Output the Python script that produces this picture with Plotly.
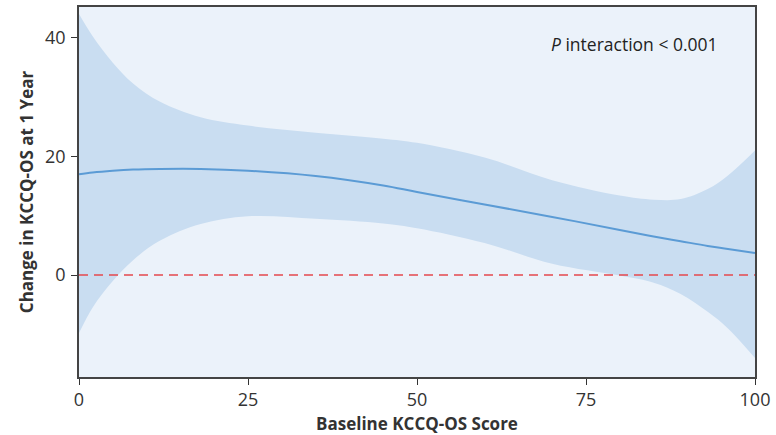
import plotly.graph_objects as go

x_vals = [0, 2, 5, 8, 12, 18, 25, 35, 45, 50, 60, 70, 80, 85, 89, 93, 96, 100]
est = [17.0, 17.3, 17.6, 17.8, 17.9, 17.9, 17.6, 16.7, 15.1, 14.0, 11.9, 9.8, 7.6, 6.5, 5.7, 4.9, 4.4, 3.7]
upper = [44.0, 40.3, 35.8, 32.3, 29.2, 26.6, 25.2, 24.0, 23.0, 22.3, 19.8, 16.0, 13.4, 12.7, 12.8, 14.5, 16.8, 21.0]
lower = [-9.8, -5.5, -1.0, 2.5, 5.8, 8.6, 9.9, 9.5, 8.7, 7.9, 5.4, 1.9, -0.1, -1.3, -3.2, -6.2, -9.0, -14.0]

x_ticks = [0, 25, 50, 75, 100]
y_ticks = [0, 20, 40]

font_fam = "Open Sans, Noto Sans, sans-serif"

fig = go.Figure()
fig.add_trace(go.Scatter(x=x_vals, y=upper, mode="lines", line=dict(width=0, shape="spline"),
                         hoverinfo="skip", showlegend=False))
fig.add_trace(go.Scatter(x=x_vals, y=lower, mode="lines", line=dict(width=0, shape="spline"),
                         fill="tonexty", fillcolor="#C9DDF1", hoverinfo="skip", showlegend=False))
fig.add_trace(go.Scatter(x=[0, 100], y=[0, 0], mode="lines",
                         line=dict(color="#E5484D", width=1.6, dash="9px,6px"), showlegend=False))
fig.add_trace(go.Scatter(x=x_vals, y=est, mode="lines",
                         line=dict(color="#5B9BD5", width=2, shape="spline"), showlegend=False))

fig.add_annotation(x=0.948, y=0.9, xref="paper", yref="paper", xanchor="right", yanchor="middle",
                   text="<i>P</i> interaction &lt; 0.001", showarrow=False,
                   font=dict(family=font_fam, size=17.5, color="#222222"))

fig.update_layout(
    width=776, height=435,
    margin=dict(l=79, r=21, t=7, b=58),
    paper_bgcolor="white",
    plot_bgcolor="#EBF2FA",
    font=dict(family=font_fam, color="#333333"),
    xaxis=dict(range=[0, 100], tickvals=x_ticks, ticks="outside", ticklen=6, tickcolor="#333333",
               showline=True, linecolor="#444444", linewidth=1.5, mirror=True, showgrid=False,
               zeroline=False, automargin=False, tickfont=dict(size=18, color="#333333"),
               title=dict(text="<b>Baseline KCCQ-OS Score</b>", font=dict(size=17, color="#333333"), standoff=8)),
    yaxis=dict(range=[-17.2, 45.2], tickvals=y_ticks, ticks="outside", ticklen=6, tickcolor="#333333",
               showline=True, linecolor="#444444", linewidth=1.5, mirror=True, showgrid=False,
               zeroline=False, automargin=False, tickfont=dict(size=18, color="#333333"),
               ticklabelstandoff=2,
               title=dict(text="<b>Change in KCCQ-OS at 1 Year</b>", font=dict(size=17, color="#333333"), standoff=7)),
)

fig.write_html("out.html", post_script="document.body.style.margin='0px';",
               config={"displayModeBar": False})
